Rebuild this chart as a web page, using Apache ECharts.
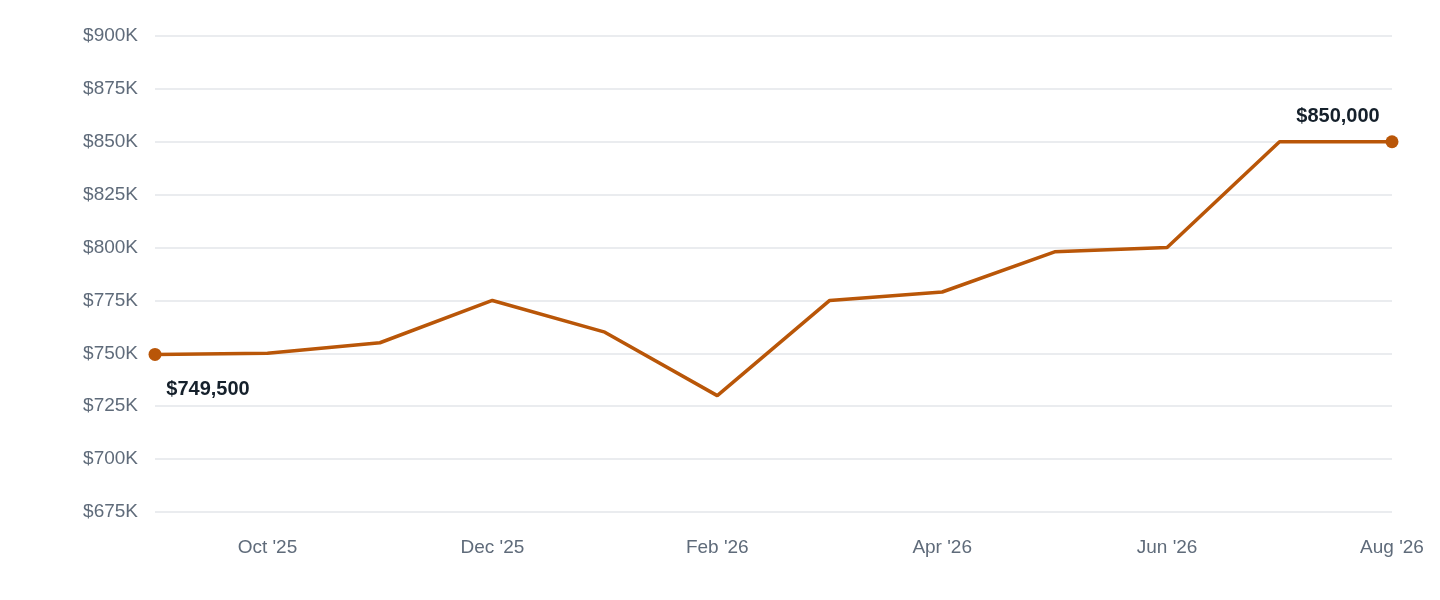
<!DOCTYPE html>
<html><head><meta charset="utf-8">
<script src="https://cdn.jsdelivr.net/npm/echarts@6/dist/echarts.min.js"></script>
<style>html,body{margin:0;background:#fff}#c{width:1440px;height:600px}</style>
</head><body><div id="c"></div>
<script>
const months = ["Sep '25","Oct '25","Nov '25","Dec '25","Jan '26","Feb '26","Mar '26","Apr '26","May '26","Jun '26","Jul '26","Aug '26"];
const prices = [749500,750000,755000,775000,760000,730000,775000,779000,798000,800000,850000,850000];
const fmt = v => '$' + v.toLocaleString('en-US');
const last = prices.length - 1;
const data = prices.map((v,i) => {
  if (i === 0) return {value:v, symbol:'circle', symbolSize:13,
    label:{show:true, position:'bottom', offset:[53,14], formatter:fmt(v)}};
  if (i === last) return {value:v, symbol:'circle', symbolSize:13,
    label:{show:true, position:'top', offset:[-54,-4], formatter:fmt(v)}};
  return {value:v, symbol:'none'};
});
const chart = echarts.init(document.getElementById('c'));
chart.setOption({
  animation:false,
  grid:{left:155,right:48,top:36,bottom:88},
  xAxis:{type:'category', data:months, boundaryGap:false,
    axisLine:{show:false}, axisTick:{show:false},
    axisLabel:{interval:(i)=>i%2===1, margin:26, color:'#5f6b7a', fontSize:19, fontFamily:'Helvetica, Arial, sans-serif'}},
  yAxis:{type:'value', min:675000, max:900000, interval:25000,
    axisLine:{show:false}, axisTick:{show:false},
    splitLine:{lineStyle:{color:'#e3e6ea', width:1.5}},
    axisLabel:{margin:17, color:'#5f6b7a', fontSize:19, fontFamily:'Helvetica, Arial, sans-serif', formatter:v=>'$'+(v/1000)+'K'}},
  series:[{type:'line', data, showSymbol:true,
    lineStyle:{color:'#b95608', width:3.5}, itemStyle:{color:'#b95608'},
    label:{color:'#15202b', fontSize:20, fontWeight:'bold', fontFamily:'Helvetica, Arial, sans-serif'}}]
});
</script></body></html>
